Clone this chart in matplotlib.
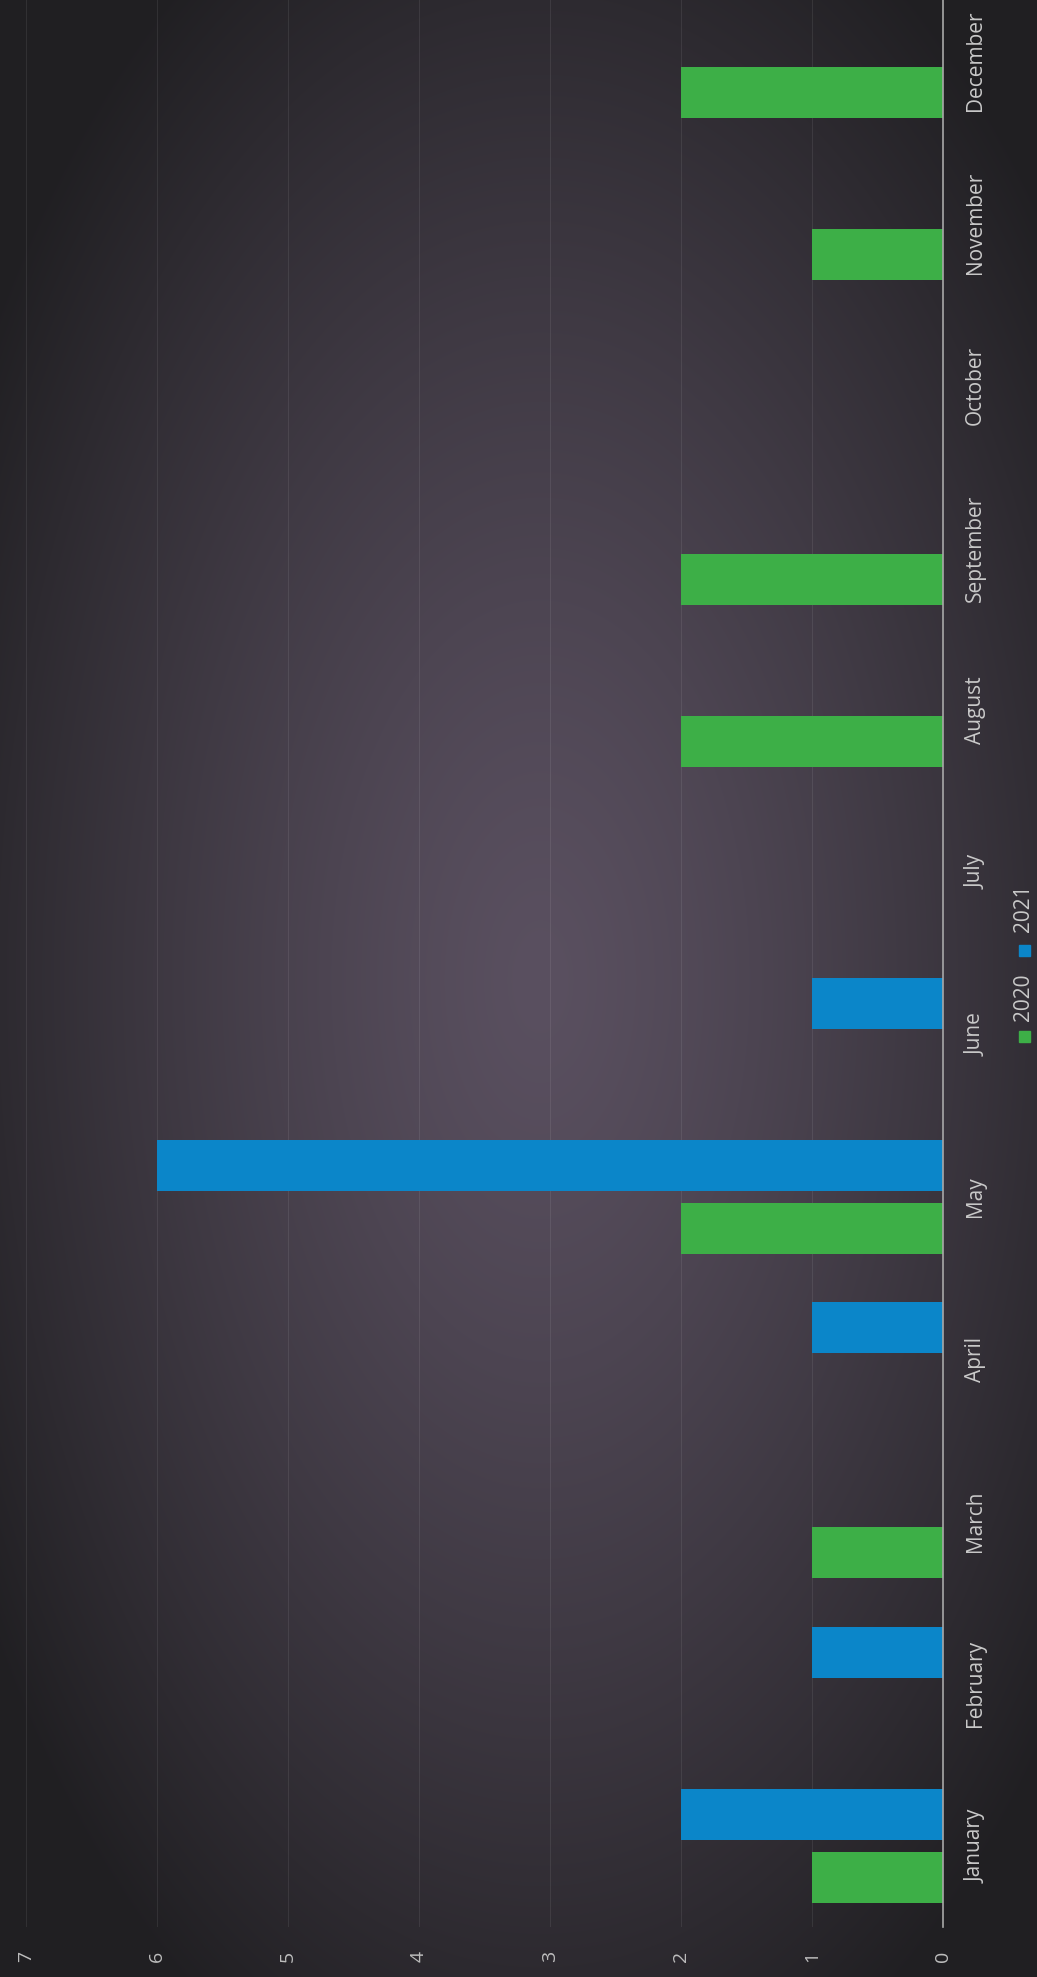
import numpy as np
import matplotlib
matplotlib.use("Agg")
import matplotlib.pyplot as plt
from matplotlib.patches import Rectangle

months = ["January", "February", "March", "April", "May", "June", "July",
          "August", "September", "October", "November", "December"]
y2020 = [1, 0, 1, 0, 2, 0, 0, 2, 2, 0, 1, 2]
y2021 = [2, 1, 0, 1, 6, 1, 0, 0, 0, 0, 0, 0]
series_names = ["2020", "2021"]
value_ticks = [0, 1, 2, 3, 4, 5, 6, 7]

W, H = 1037, 1977
plt.rcParams["font.family"] = ["Open Sans", "DejaVu Sans"]

fig = plt.figure(figsize=(W / 100, H / 100), dpi=100)

# dark radial background
bg = fig.add_axes([0, 0, 1, 1], zorder=-10)
yy, xx = np.mgrid[0:H, 0:W]
r = np.sqrt(((xx - 540) / 660.0) ** 2 + ((yy - 980) / 1200.0) ** 2)
r = np.clip(r, 0, 1) ** 1.3
c0 = np.array([90, 80, 96]) / 255.0
c1 = np.array([32, 31, 34]) / 255.0
img = c0[None, None, :] * (1 - r[..., None]) + c1[None, None, :] * r[..., None]
bg.imshow(img, aspect="auto", extent=[0, 1, 0, 1])
bg.axis("off")

# plot area (chart rotated: months bottom->top, values right->left)
left, right, bottom, top = 26, 943, 1927, -20
ax = fig.add_axes([left / W, (H - bottom) / H, (right - left) / W, (bottom - top) / H])
ax.set_facecolor("none")

green, blue = "#3daf47", "#0b86c9"
pos = np.arange(len(months))
bw, off = 0.314, 0.194
ax.barh(pos - off, y2020, height=bw, color=green, zorder=3)
ax.barh(pos + off, y2021, height=bw, color=blue, zorder=3)

ax.set_xlim(7, 0)
ax.set_ylim(-0.5, len(months) - 0.5)
ax.set_xticks(value_ticks)
ax.set_xticklabels([str(v) for v in value_ticks], rotation=90, color="#bdbdbd", fontsize=14)
ax.set_yticks(pos)
ax.set_yticklabels(months, rotation=90, va="center", ha="left", color="#c9c9c9", fontsize=15)
ax.yaxis.tick_right()
ax.tick_params(axis="y", length=0, pad=16)
ax.tick_params(axis="x", length=0, pad=17)
ax.grid(axis="x", color="white", alpha=0.08, lw=0.8, zorder=0)
for s in ["top", "bottom", "left"]:
    ax.spines[s].set_visible(False)
ax.spines["right"].set_color("#a8a8a8")
ax.spines["right"].set_linewidth(1.2)
ax.spines["right"].set_zorder(4)

# legend, drawn rotated
lx = 1024
for name, col, ty, sy in [(series_names[1], blue, 908, 950), (series_names[0], green, 997, 1036)]:
    fig.text(lx / W, 1 - ty / H, name, rotation=90, ha="center", va="center",
             color="#c9c9c9", fontsize=15)
    fig.add_artist(Rectangle(((lx - 5.5) / W, 1 - (sy + 5.5) / H), 11 / W, 11 / H,
                             transform=fig.transFigure, color=col))

fig.savefig("out.png", dpi=100)
